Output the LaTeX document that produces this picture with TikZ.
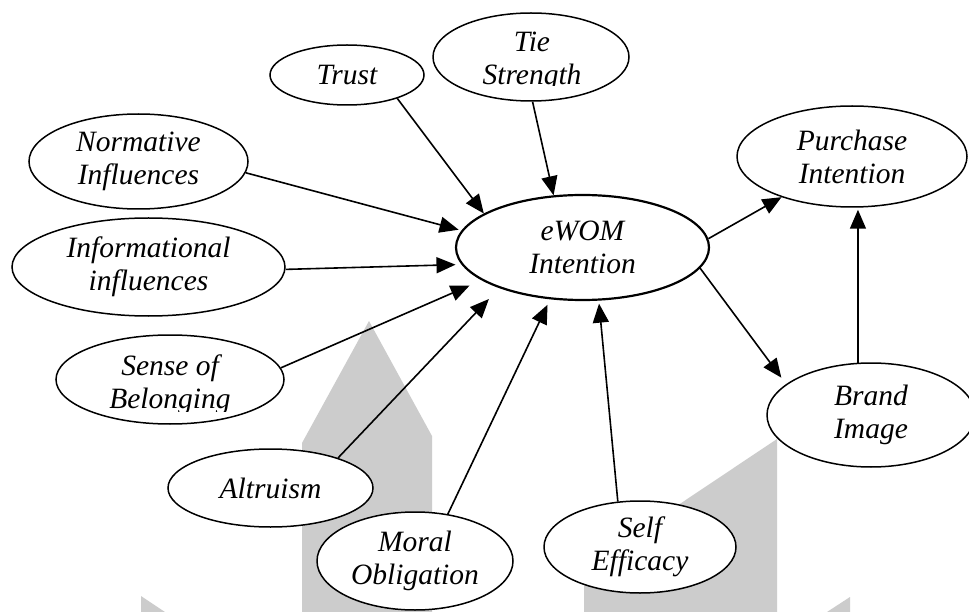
\documentclass[tikz,border=0pt]{standalone}
\usepackage{fontspec}
\setmainfont{Liberation Serif}
\usetikzlibrary{shapes.geometric,arrows.meta}

\tikzset{
  construct/.style={ellipse, draw, fill=white, line width=1.5pt, inner sep=-10pt,
    align=center, font=\fontsize{29.5}{33}\selectfont\itshape},
  lbl/.style={inner sep=0pt, align=center, font=\fontsize{29.5}{33}\selectfont\itshape},
  arr/.style={line width=1.6pt, -{Triangle[length=19pt,width=16pt]}},
  wm/.style={fill=black!20}
}

\newcommand{\elnode}[6]{%
  \node[construct, minimum width=#4pt, minimum height=#5pt] (#1) at (#2,#3) {#6};}

\begin{document}
\begin{tikzpicture}[x=1pt,y=-1pt]
  \useasboundingbox (0,0) rectangle (969,612);
  \fill[white] (0,0) rectangle (969,612);

  % faint background emblem
  \fill[wm] (302,612) -- (302,443) -- (369,321) -- (432,436) -- (432,612) -- cycle;
  \fill[wm] (584,612) -- (584,568) -- (777,439) -- (777,612) -- cycle;
  \fill[wm] (141,612) -- (141,596) -- (165,612) -- cycle;
  \fill[wm] (827,612) -- (850,597) -- (850,612) -- cycle;

  % constructs
  \elnode{trust}{347}{75}{154}{60}{Trust}
  \elnode{tie}{531}{57}{196}{88}{}
  \begin{scope}
    \clip (420,0) rectangle (640,86);
    \node[lbl] (tietext) at (532,61) {Tie\\Strength};
  \end{scope}
  \elnode{norm}{138.5}{161.5}{219}{95}{Normative\\Influences}
  \elnode{info}{148.5}{267}{273}{98}{Informational\\influences}
  \elnode{sense}{170}{379.5}{228}{89}{}
  \begin{scope}
    \clip (50,330) rectangle (290,411);
    \node[lbl] (sensetext) at (170,385) {Sense of\\Belonging};
  \end{scope}
  \elnode{altru}{270.5}{488}{205}{78}{Altruism}
  \elnode{moral}{415}{561}{196}{98}{Moral\\Obligation}
  \elnode{self}{640}{547}{192}{92}{Self\\Efficacy}
  \elnode{brand}{871}{415}{208}{104}{Brand\\Image}
  \elnode{purch}{852}{156.5}{230}{101}{Purchase\\Intention}
  \node[construct, line width=2.2pt, minimum width=253pt, minimum height=105pt]
    (ewom) at (582.5,247.5) {eWOM\\Intention};

  % paths
  \draw[arr] (trust.-25) -- (ewom.161);
  \draw[arr] (tie.-88) -- (ewom.119);
  \draw[arr, shorten >=3pt] (norm.-6) -- (ewom.172.7);
  \draw[arr, shorten >=6pt] (info.-1) -- (ewom.-172.7);
  \draw[arr, shorten >=13pt] (sense.6) -- (ewom.-162.3);
  \draw[arr, shorten >=15pt] (altru.24) -- (ewom.-154);
  \draw[arr, shorten >=6pt] (moral.55) -- (ewom.-122);
  \draw[arr, shorten >=3pt] (self.116) -- (ewom.-73.5);
  \draw[arr] (ewom.4.4) -- (purch.-150.3);
  \draw[arr, shorten >=8pt] (ewom.-10.9) -- (brand.160);
  \draw[arr, shorten >=2pt] (brand.104) -- (brand.104 |- purch.south);
\end{tikzpicture}
\end{document}
